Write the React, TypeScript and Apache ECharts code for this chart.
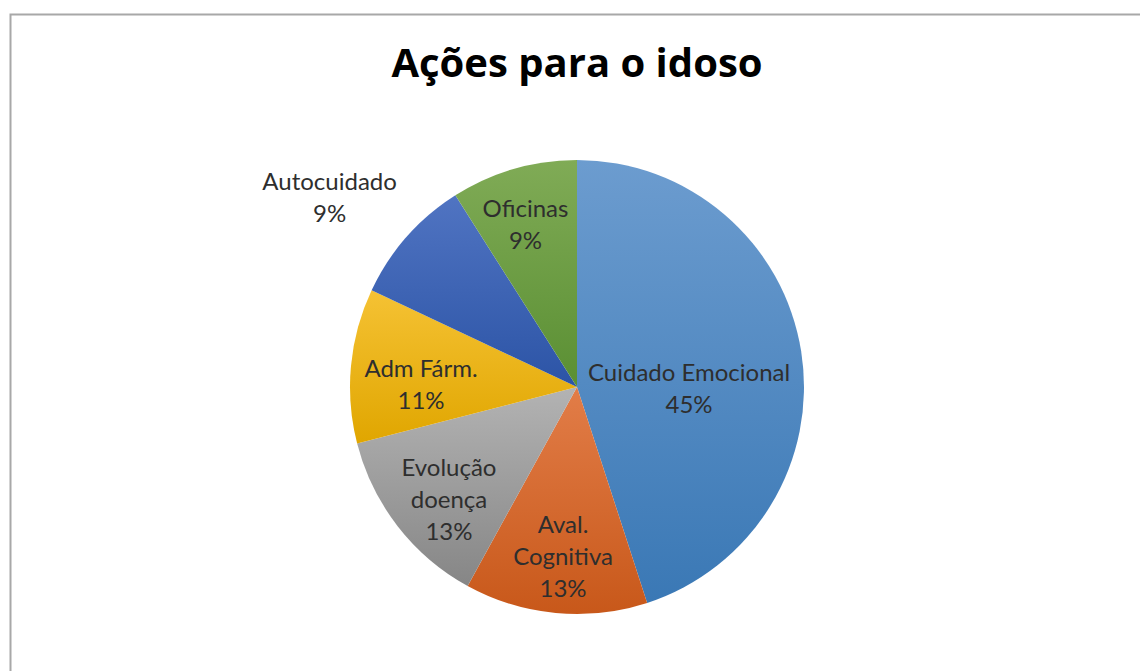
import React, { useEffect, useRef } from "react";
import * as echarts from "echarts";

const titleText = "Ações para o idoso";
const categories = ["Cuidado Emocional", "Aval.\nCognitiva", "Evolução\ndoença", "Adm Fárm.", "Autocuidado", "Oficinas"];
const values = [45, 13, 13, 11, 9, 9];
const colorTop = ["#6c9ccf", "#e27d48", "#b3b3b3", "#f5c234", "#5074c2", "#80ab56"];
const colorBottom = ["#3a78b5", "#c8581a", "#868686", "#e0a600", "#2c54a6", "#5a8f33"];
// label nudges (px) relative to the default inside position
const labelShift = [[-3, 19], [-3, 53], [-36, 40], [-40, 7], [-160, -113], [-19, -52]];

export default function App() {
  const ref = useRef<HTMLDivElement>(null);
  useEffect(() => {
    const chart = echarts.init(ref.current!, null, { renderer: "svg" });
    const data = categories.map((name, i) => ({
      name,
      value: values[i],
      itemStyle: {
        color: new echarts.graphic.LinearGradient(0, 0, 0, 1, [
          { offset: 0, color: colorTop[i] },
          { offset: 1, color: colorBottom[i] },
        ]),
      },
    }));
    chart.setOption({
      animation: false,
      backgroundColor: "#ffffff",
      title: {
        text: titleText,
        left: 572,
        textAlign: "center",
        top: 36,
        textStyle: { fontFamily: "Open Sans", fontWeight: "bold", fontSize: 40, color: "#000000" },
      },
      graphic: [
        {
          type: "rect",
          left: 8,
          top: 12,
          shape: { width: 1200, height: 800 },
          style: { fill: "none", stroke: "#a8a8a8", lineWidth: 2 },
          silent: true,
        },
      ],
      series: [
        {
          type: "pie",
          center: [577, 387],
          radius: 227,
          startAngle: 90,
          clockwise: true,
          data,
          itemStyle: { borderWidth: 0 },
          label: {
            show: true,
            position: "inside",
            formatter: "{b}\n{d}%",
            fontFamily: "Lato",
            fontSize: 24,
            lineHeight: 32,
            color: "#2e2e2e",
          },
          labelLine: { show: false },
          labelLayout: (p: any) => {
            const s = labelShift[p.dataIndex] || [0, 0];
            return { dx: s[0], dy: s[1] };
          },
          emphasis: { disabled: true },
        },
      ],
    });
    return () => chart.dispose();
  }, []);
  return <div ref={ref} style={{ position: "absolute", left: 0, top: 0, width: 1140, height: 671 }} />;
}
